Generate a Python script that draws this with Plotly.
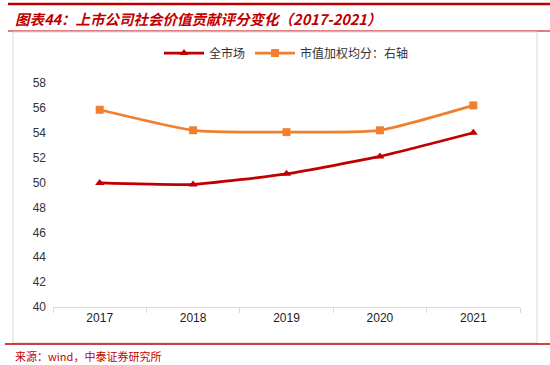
import plotly.graph_objects as go

years = ["2017", "2018", "2019", "2020", "2021"]
market = [49.97, 49.85, 50.7, 52.1, 54.0]
weighted = [55.85, 54.2, 54.05, 54.2, 56.2]
yticks = [40, 42, 44, 46, 48, 50, 52, 54, 56, 58]

W, H = 550, 365
L, R, T, B = 53, 30, 83, 58
pw, ph = W - L - R, H - T - B

def px(x):
    return (x - L) / pw

def py(y):
    return (H - B - y) / ph

fig = go.Figure()
fig.add_trace(go.Scatter(
    x=years, y=market, name="全市场", mode="lines+markers",
    line=dict(color="#C00000", width=2.75, shape="spline", smoothing=0.5),
    marker=dict(symbol="triangle-up", size=8, color="#C00000"),
))
fig.add_trace(go.Scatter(
    x=years, y=weighted, name="市值加权均分：右轴", mode="lines+markers", yaxis="y2",
    line=dict(color="#F08030", width=2.75, shape="spline", smoothing=0.5),
    marker=dict(symbol="square", size=8, color="#F08030"),
))

red = "#C00000"
shapes = [
    dict(type="line", xref="paper", yref="paper", x0=px(8), x1=px(550), y0=py(4), y1=py(4),
         line=dict(color=red, width=2.5)),
    dict(type="line", xref="paper", yref="paper", x0=px(8), x1=px(550), y0=py(31), y1=py(31),
         line=dict(color=red, width=1.2)),
    dict(type="rect", xref="paper", yref="paper", x0=px(13), x1=px(537), y0=py(32), y1=py(343),
         line=dict(color="#D9D9D9", width=1)),
    dict(type="line", xref="paper", yref="paper", x0=px(5), x1=px(550), y0=py(344), y1=py(344),
         line=dict(color=red, width=1.5)),
]

fig.update_layout(
    width=W, height=H,
    margin=dict(l=L, r=R, t=T, b=B),
    paper_bgcolor="white", plot_bgcolor="white",
    font=dict(family="Noto Sans CJK SC, DejaVu Sans", size=12, color="#333333"),
    showlegend=True,
    legend=dict(orientation="h", x=0.5, xanchor="center", y=py(53), yanchor="middle",
                font=dict(size=12, color="#333333"), itemwidth=40, bgcolor="rgba(0,0,0,0)"),
    xaxis=dict(type="category", showgrid=False, showline=True, linecolor="#D9D9D9",
               ticks="outside", tickcolor="#D9D9D9", ticklen=5, tickson="boundaries",
               tickfont=dict(family="Liberation Sans, DejaVu Sans", size=12, color="#222222"),
               range=[-0.5, 4.5]),
    yaxis=dict(range=[40, 58], tickvals=yticks, showgrid=False, showline=False, zeroline=False,
               ticks="", tickfont=dict(family="Liberation Sans, DejaVu Sans", size=12, color="#333333"),
               ticklabelstandoff=6),
    yaxis2=dict(range=[40, 58], overlaying="y", side="right", visible=False),
    shapes=shapes,
    annotations=[
        dict(text="<b><i>图表44：上市公司社会价值贡献评分变化（2017-2021）</i></b>",
             xref="paper", yref="paper", x=px(13), y=py(18), xanchor="left", yanchor="middle",
             showarrow=False, font=dict(size=14.5, color=red, family="Noto Sans CJK SC")),
        dict(text="来源：wind，中泰证券研究所",
             xref="paper", yref="paper", x=px(13), y=py(356), xanchor="left", yanchor="middle",
             showarrow=False, font=dict(size=11, color=red, family="Noto Sans CJK SC")),
    ],
)

fig.write_html("out.html", config={"displayModeBar": False},
               post_script="document.body.style.margin='0';document.body.style.overflow='hidden';")
